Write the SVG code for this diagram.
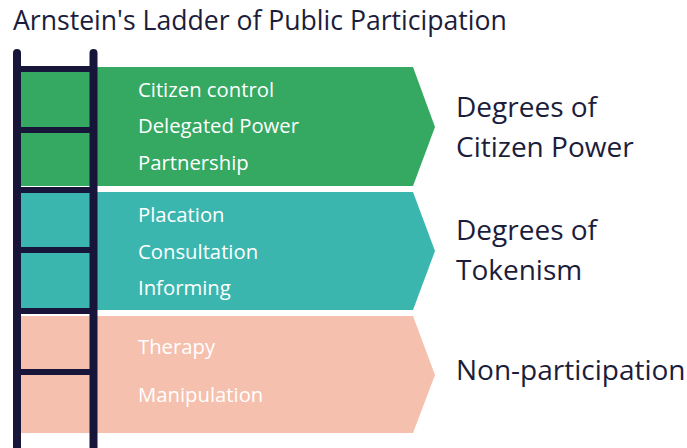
<svg xmlns="http://www.w3.org/2000/svg" width="687" height="448" viewBox="0 0 687 448">
<style>
.band{stroke:none}
.item{font-family:"Open Sans","Noto Sans",sans-serif;font-size:20.3px;fill:#ffffff}
.cat{font-family:"Open Sans","Noto Sans",sans-serif;font-size:28px;fill:#1c1d3b}
.title{font-family:"Open Sans","Noto Sans",sans-serif;font-size:26.6px;fill:#1c1d3b}
.rail{stroke:#17163a;stroke-width:8;stroke-linecap:round;fill:none}
.rung{stroke:#17163a;stroke-width:6;fill:none}
</style>
<rect width="687" height="448" fill="#ffffff"/>
<text class="title" x="13" y="30">Arnstein's Ladder of Public Participation</text>
<g id="band-citizen-power">
<polygon class="band" fill="#35a862" points="13,67 413,67 435,127 413,186 13,186"/>
<text class="item" x="138" y="97">Citizen control</text>
<text class="item" x="138" y="133">Delegated Power</text>
<text class="item" x="138" y="170">Partnership</text>
</g>
<g id="band-tokenism">
<polygon class="band" fill="#3bb6ae" points="13,192 413,192 435,251 413,310 13,310"/>
<text class="item" x="138" y="222">Placation</text>
<text class="item" x="138" y="259">Consultation</text>
<text class="item" x="138" y="295">Informing</text>
</g>
<g id="band-nonparticipation">
<polygon class="band" fill="#f5c1ae" points="13,316 413,316 435,375 413,433 13,433"/>
<text class="item" x="138" y="354">Therapy</text>
<text class="item" x="138" y="402">Manipulation</text>
</g>
<g id="ladder">
<line class="rail" x1="17" y1="53" x2="17" y2="460"/>
<line class="rail" x1="93.5" y1="53" x2="93.5" y2="460"/>
<line class="rung" x1="17" y1="69" x2="93.5" y2="69"/>
<line class="rung" x1="17" y1="130" x2="93.5" y2="130"/>
<line class="rung" x1="17" y1="190" x2="93.5" y2="190"/>
<line class="rung" x1="17" y1="250" x2="93.5" y2="250"/>
<line class="rung" x1="17" y1="311" x2="93.5" y2="311"/>
<line class="rung" x1="17" y1="372" x2="93.5" y2="372"/>
</g>
<g id="labels">
<text class="cat" x="456" y="117">Degrees of</text>
<text class="cat" x="456" y="157">Citizen Power</text>
<text class="cat" x="456" y="240">Degrees of</text>
<text class="cat" x="456" y="280">Tokenism</text>
<text class="cat" x="456" y="380">Non-participation</text>
</g>
</svg>
